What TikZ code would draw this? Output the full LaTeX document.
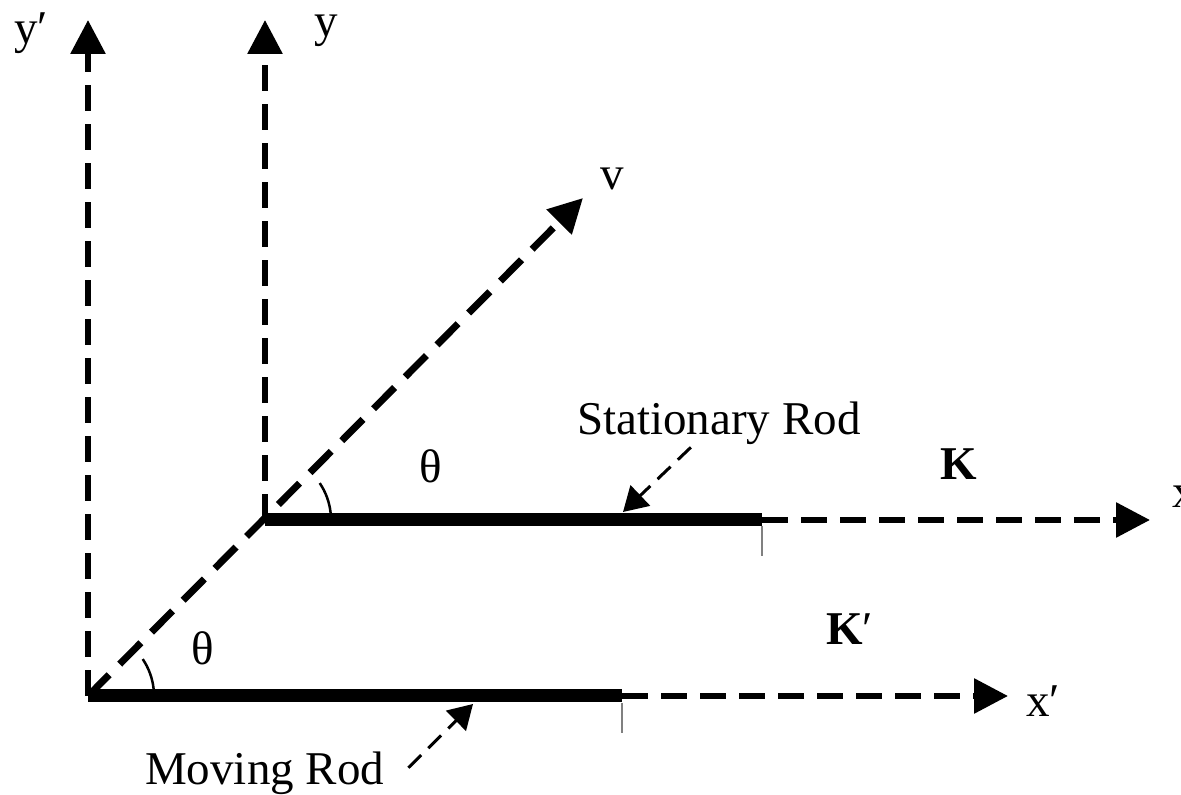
\documentclass[tikz,border=0pt]{standalone}
\usepackage{fontspec}
\setmainfont{Liberation Serif}
\usetikzlibrary{arrows.meta}
\tikzset{
  axis/.style={dash pattern=on 26pt off 13pt, line width=6pt, -{Triangle[length=34pt,width=34pt]}},
  diag/.style={axis, dash pattern=on 30pt off 15pt, line width=7pt},
  rod/.style={line width=13pt},
  rodtick/.style={gray, line width=2pt},
  ptr/.style={dash pattern=on 18pt off 10pt, line width=3pt, -{Triangle[length=24pt,width=28pt]}},
  ang/.style={line width=2.5pt},
  lbl/.style={font=\fontsize{47}{56}\selectfont, inner sep=2pt, anchor=base west}
}
\begin{document}
\begin{tikzpicture}[x=1pt, y=1pt]
\useasboundingbox (0,0) rectangle (1181,795);
% origins of K and K'
\coordinate (O) at (265,275);
\coordinate (Op) at (88,99);
\coordinate (rodEnd) at (762,275);
\coordinate (rodEndp) at (622,99);
\coordinate (xTip) at (1150,275);
\coordinate (xpTip) at (1008,99);
\coordinate (yTip) at (265,775);
\coordinate (ypTip) at (88,775);
\coordinate (vTip) at (583,597);

% axes
\draw[axis] (Op) -- (ypTip);
\draw[axis] (O) -- (yTip);
\draw[axis] (rodEnd) -- (xTip);
\draw[axis] (rodEndp) -- (xpTip);
\draw[diag] (Op) -- (vTip);

% rods
\draw[rod] (O) -- (rodEnd);
\draw[rod] (Op) -- (rodEndp);
\draw[rodtick] ([yshift=-6pt]rodEnd) -- ++(0,-30);
\draw[rodtick] ([yshift=-7pt]rodEndp) -- ++(0,-30);

% angles
\draw[ang] ([shift={(6:66)}]O) arc[start angle=6, end angle=34, radius=66];
\draw[ang] ([shift={(6:66)}]Op) arc[start angle=6, end angle=34, radius=66];

% labels
\node[lbl] (yLab) at (312,758) {y};
\node[lbl] (ypLab) at (12,751) {y′};
\node[lbl] (vLab) at (598,605) {v};
\node[lbl] (xLab) at (1170,287) {x};
\node[lbl] (xpLab) at (1024,78) {x′};
\node[lbl] (kLab) at (938,315) {\textbf{K}};
\node[lbl] (kpLab) at (824,150) {\textbf{K}′};
\node[lbl] (thLab) at (417,312) {θ};
\node[lbl] (thpLab) at (189,130) {θ};
\node[lbl] (stat) at (575,360) {Stationary Rod};
\node[lbl] (mov) at (143,10) {Moving Rod};

% pointers to the rods
\coordinate (statTip) at (623,283);
\coordinate (movTip) at (473,91);
\draw[ptr] ([xshift=-28pt]stat.south) -- (statTip);
\draw[ptr] ([shift={(22pt,6pt)}]mov.east) -- (movTip);
\end{tikzpicture}
\end{document}
